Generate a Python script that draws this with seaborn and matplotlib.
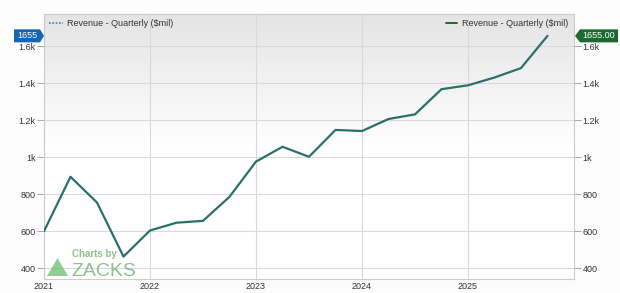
import numpy as np
import pandas as pd
import matplotlib
matplotlib.use("Agg")
import matplotlib.pyplot as plt
from matplotlib.patches import Polygon
from matplotlib.colors import LinearSegmentedColormap
import seaborn as sns

# ---- data ----
quarters = [2021.0, 2021.25, 2021.5, 2021.75,
            2022.0, 2022.25, 2022.5, 2022.75,
            2023.0, 2023.25, 2023.5, 2023.75,
            2024.0, 2024.25, 2024.5, 2024.75,
            2025.0, 2025.25, 2025.5, 2025.75]
revenue = [600, 894, 755, 463,
           604, 646, 656, 786,
           976, 1056, 1002, 1147,
           1141, 1206, 1231, 1367,
           1388, 1430, 1481, 1655]
year_ticks = [2021, 2022, 2023, 2024, 2025]
y_ticks = [400, 600, 800, 1000, 1200, 1400, 1600]
y_tick_labels = ["400", "600", "800", "1k", "1.2k", "1.4k", "1.6k"]
series_name = "Revenue - Quarterly ($mil)"
last_label_left = "1655"
last_label_right = "1655.00"

df = pd.DataFrame({"quarter": quarters, "revenue": revenue})

sns.set_theme(style="white")
plt.rcParams["font.family"] = ["Liberation Sans", "DejaVu Sans"]

W, H = 620, 293
fig = plt.figure(figsize=(W / 100, H / 100), dpi=100)
fig.patch.set_facecolor("#fcfcfc")
ax = fig.add_axes([44 / W, (H - 279) / H, (574 - 44) / W, (279 - 14) / H])
ax.set_facecolor("white")

# gradient background
grad = np.linspace(0, 1, 256).reshape(-1, 1)
cmap = LinearSegmentedColormap.from_list("g", ["#ffffff", "#ffffff", "#e4e4e4"])
ax.imshow(grad, extent=[0, 1, 0, 1], transform=ax.transAxes, origin="lower",
          cmap=cmap, aspect="auto", zorder=0)

line_color = "#2a706b"
sns.lineplot(data=df, x="quarter", y="revenue", ax=ax, color=line_color,
             linewidth=1.6, zorder=3, legend=False)

ax.set_xlim(2021, 2026)
ax.set_ylim(342, 1773)
ax.set_xticks(year_ticks)
ax.set_xticklabels([str(y) for y in year_ticks], fontsize=6.5, color="#333333")
ax.set_yticks(y_ticks)
ax.set_yticklabels(y_tick_labels, fontsize=6.5, color="#333333")
ax.grid(True, color="#d9d9d9", linewidth=0.8, zorder=1)
ax.set_axisbelow(True)
ax.set_xlabel("")
ax.set_ylabel("")
ax.tick_params(axis="y", which="both", length=5, width=0.6, color="#999999", pad=1, left=True)
ax.tick_params(axis="x", which="both", length=0, pad=2)
for s in ax.spines.values():
    s.set_color("#cccccc")
    s.set_linewidth(0.8)

ax2 = ax.twinx()
ax2.set_ylim(ax.get_ylim())
ax2.set_yticks(y_ticks)
ax2.set_yticklabels(y_tick_labels, fontsize=6.5, color="#333333")
ax2.tick_params(axis="y", length=5, width=0.6, color="#999999", pad=1)
for s in ax2.spines.values():
    s.set_visible(False)
ax2.grid(False)

# legends
ax.plot([], [], color="#3a7cc4", linestyle=(0, (1, 1)), linewidth=1.2, label=series_name)
ax.legend(loc="upper left", fontsize=6.5, frameon=False, handlelength=1.5,
          borderaxespad=0.2, handletextpad=0.5, labelcolor="#333333")
ax2.plot([], [], color="#1f6b2f", linewidth=1.4, label=series_name)
ax2.legend(loc="upper right", fontsize=6.5, frameon=False, handlelength=1.2,
           borderaxespad=0.2, handletextpad=0.6, labelcolor="#333333")

# last value flags
fig.canvas.draw()
_, ypix = ax.transData.transform((2025.75, revenue[-1]))
yc = ypix / H
h = 6.5 / H
def px(x):
    return x / W
left_poly = Polygon([(px(14), yc - h), (px(40), yc - h), (px(44), yc), (px(40), yc + h), (px(14), yc + h)],
                    closed=True, transform=fig.transFigure, facecolor="#1565b5", edgecolor="none")
fig.patches.append(left_poly)
fig.text(px(27), yc, last_label_left, color="white", fontsize=6.5, ha="center", va="center")
right_poly = Polygon([(px(575), yc), (px(580), yc - h), (px(618), yc - h), (px(618), yc + h), (px(580), yc + h)],
                     closed=True, transform=fig.transFigure, facecolor="#1a6a2e", edgecolor="none")
fig.patches.append(right_poly)
fig.text(px(599), yc, last_label_right, color="white", fontsize=6.5, ha="center", va="center")

# watermark
tri = Polygon([(px(47), (H - 276) / H), (px(68), (H - 276) / H), (px(57.5), (H - 258) / H)],
              closed=True, transform=fig.transFigure, facecolor="#6cbf6c", alpha=0.75, edgecolor="none")
fig.patches.append(tri)
fig.text(px(72), (H - 257) / H, "Charts by", color="#7cb77c", fontsize=7, ha="left", va="baseline",
         fontweight="bold", alpha=0.85)
fig.text(px(71), (H - 276) / H, "ZACKS", color="#7cb77c", fontsize=14, ha="left", va="baseline",
         alpha=0.85)

fig.savefig("out.png", dpi=100, facecolor=fig.get_facecolor())
